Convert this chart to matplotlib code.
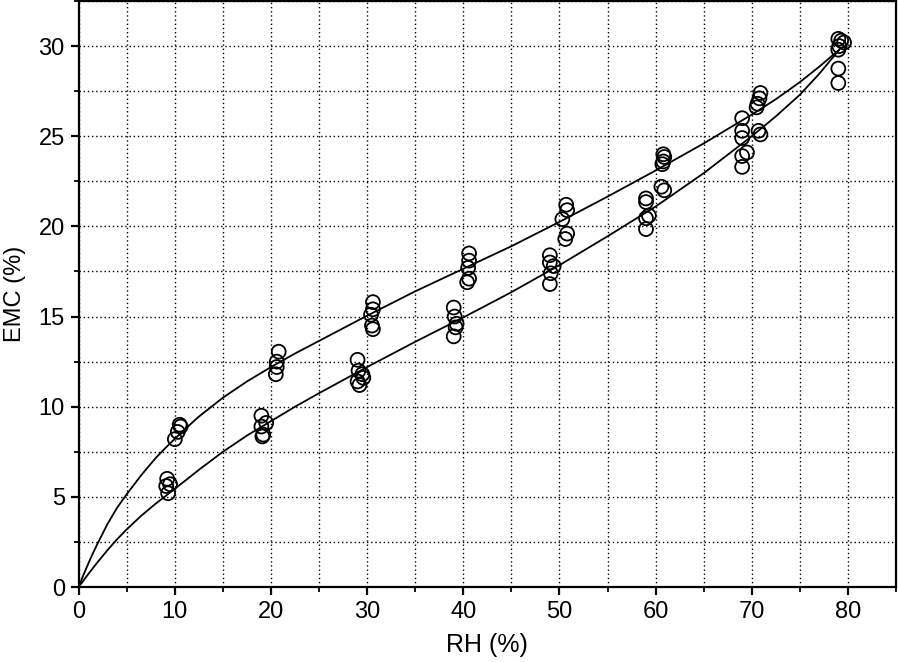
import matplotlib
matplotlib.use("Agg")
import matplotlib.pyplot as plt
from matplotlib.ticker import MultipleLocator

plt.rcParams['font.family'] = ['Liberation Sans', 'DejaVu Sans']

# Measured points (RH %, EMC %) – desorption (upper) branch
rh_upper = [10.5, 10.6, 10.3, 10.0,
            20.8, 20.6, 20.6, 20.5,
            30.6, 30.6, 30.4, 30.5, 30.6,
            40.6, 40.6, 40.5, 40.6, 40.4,
            50.7, 50.8, 50.3, 50.8, 50.6,
            60.8, 60.9, 60.8, 60.7, 60.6, 60.9,
            70.9, 70.8, 70.6, 70.5, 70.7, 70.9,
            79.0, 79.3, 79.6, 79.1]
emc_upper = [9.0, 8.9, 8.6, 8.2,
             13.05, 12.5, 12.2, 11.8,
             15.8, 15.4, 15.1, 14.5, 14.3,
             18.5, 18.1, 17.7, 17.1, 16.9,
             21.2, 20.9, 20.4, 19.6, 19.3,
             24.0, 23.85, 23.6, 23.45, 22.2, 22.0,
             27.4, 27.1, 26.8, 26.6, 25.3, 25.1,
             30.4, 30.3, 30.2, 30.0]

# Measured points – adsorption (lower) branch
rh_lower = [9.2, 9.1, 9.3, 9.5,
            19.0, 19.0, 19.2, 19.5, 19.1,
            29.0, 29.1, 29.5, 29.0, 29.2, 29.6,
            39.0, 39.1, 39.3, 39.2, 39.0,
            49.0, 49.0, 49.4, 49.1, 49.0,
            59.0, 59.0, 59.3, 59.0, 59.0,
            69.0, 69.0, 69.0, 69.5, 69.0, 69.0,
            79.0, 79.0, 79.0]
emc_lower = [6.0, 5.6, 5.2, 5.7,
             9.5, 8.9, 8.45, 9.1, 8.35,
             12.6, 12.0, 11.8, 11.4, 11.2, 11.6,
             15.5, 15.0, 14.6, 14.4, 13.9,
             18.4, 18.0, 17.8, 17.4, 16.8,
             21.55, 21.35, 20.6, 20.45, 19.85,
             26.0, 25.3, 24.9, 24.1, 23.9, 23.3,
             29.8, 28.75, 27.95]

# Fitted curves
curve_up_x = [0, 0.5, 1, 1.5, 2, 3, 4, 5, 6.5, 8, 9, 10, 11.25, 12.5, 15,
              17.5, 20, 22.5, 25, 30, 35, 40, 45, 50, 55, 60, 65, 70, 72.5,
              75, 77, 79.1]
curve_up_y = [0, 0.68, 1.3, 1.9, 2.45, 3.5, 4.4, 5.15, 6.2, 7.15, 7.7, 8.22,
              8.85, 9.45, 10.5, 11.4, 12.2, 12.95, 13.65, 15.05, 16.4, 17.65,
              18.9, 20.25, 21.65, 23.1, 24.6, 26.2, 27.05, 28.0, 28.85, 29.8]
curve_lo_x = [0, 1, 2, 3, 4, 5, 6.5, 8, 9, 10, 11.25, 12.5, 15, 17.5, 20,
              22.5, 25, 30, 35, 40, 45, 50, 55, 60, 65, 70, 72.5, 75, 77, 79.1]
curve_lo_y = [0, 0.72, 1.4, 2.05, 2.65, 3.2, 3.95, 4.62, 5.03, 5.45, 5.97,
              6.5, 7.5, 8.4, 9.2, 10.0, 10.75, 12.2, 13.6, 14.95, 16.35,
              17.85, 19.45, 21.1, 22.95, 25.0, 26.1, 27.3, 28.45, 29.8]

fig = plt.figure(figsize=(8.98, 6.62), dpi=100)
ax = fig.add_axes([78.7 / 898, 75 / 662, (896 - 78.7) / 898, 586 / 662])

ax.plot(curve_up_x, curve_up_y, color='black', lw=1.3, zorder=3)
ax.plot(curve_lo_x, curve_lo_y, color='black', lw=1.3, zorder=3)
ax.scatter(rh_upper, emc_upper, s=100, facecolors='none', edgecolors='black',
           linewidths=1.3, zorder=4)
ax.scatter(rh_lower, emc_lower, s=100, facecolors='none', edgecolors='black',
           linewidths=1.3, zorder=4)

ax.set_xlim(0, 85)
ax.set_ylim(0, 32.5)
ax.xaxis.set_major_locator(MultipleLocator(10))
ax.xaxis.set_minor_locator(MultipleLocator(5))
ax.yaxis.set_major_locator(MultipleLocator(5))
ax.yaxis.set_minor_locator(MultipleLocator(2.5))

ax.grid(True, which='both', color='black', linestyle=(0, (1, 2)), lw=1.0)
ax.set_axisbelow(True)

for s in ax.spines.values():
    s.set_linewidth(1.6)
ax.tick_params(which='major', direction='out', length=6, width=1.6,
               labelsize=17, pad=4)
ax.tick_params(which='minor', direction='out', length=3.5, width=1.3)

ax.set_xlabel('RH (%)', fontsize=18, labelpad=7)
ax.set_ylabel('EMC (%)', fontsize=17, labelpad=9)

fig.savefig('out.png', dpi=100)
